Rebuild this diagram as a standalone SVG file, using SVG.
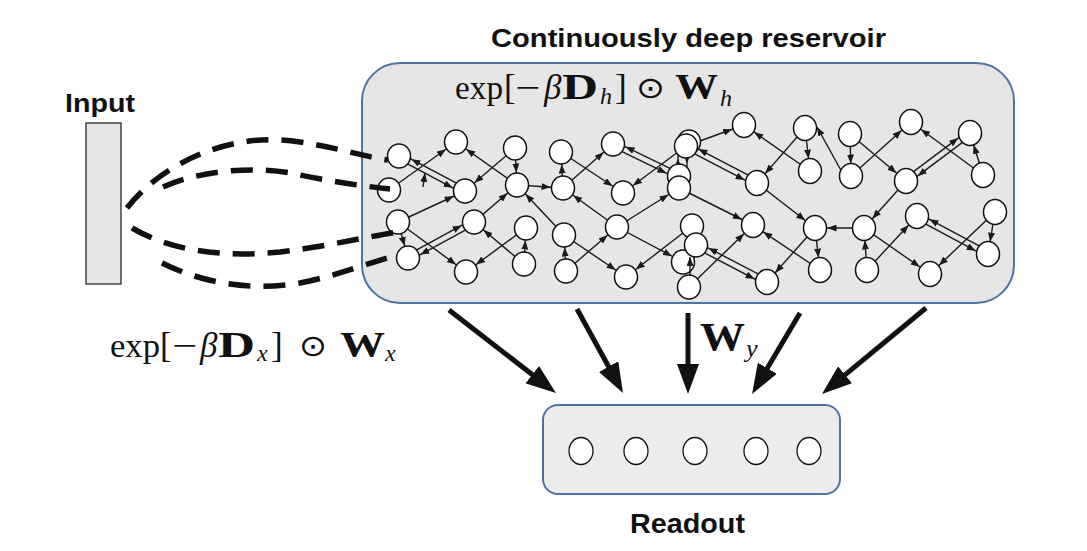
<svg xmlns="http://www.w3.org/2000/svg" width="1087" height="551" viewBox="0 0 1087 551">
<style>
.lbl{font-family:"Liberation Sans",Arial,sans-serif;font-weight:bold;fill:#111}
.m{font-family:"Liberation Serif","Times New Roman",serif;fill:#111}
.mb{font-family:"Liberation Serif","Times New Roman",serif;font-weight:bold;fill:#111}
.mi{font-family:"Liberation Serif","Times New Roman",serif;font-style:italic;fill:#111}
.op{font-family:"DejaVu Sans",sans-serif;fill:#111}
.box{fill:#e6e6e6;stroke:#4d74a4;stroke-width:2}
.nd{fill:#fff;stroke:#111;stroke-width:1.5}
.ro{fill:#fff;stroke:#111;stroke-width:1.3}
.e{fill:none;stroke:#1a1a1a;stroke-width:1.4;marker-end:url(#ah)}
.ep{fill:none;stroke:#1a1a1a;stroke-width:1.4;marker-end:url(#ahp)}
.dash{fill:none;stroke:#111;stroke-width:5.5;stroke-dasharray:22 13}
.big{fill:none;stroke:#111;stroke-width:5;marker-end:url(#bh)}
</style>
<defs>
<marker id="ah" markerUnits="userSpaceOnUse" viewBox="0 0 9 7" markerWidth="9" markerHeight="7" refX="21.5" refY="3.5" orient="auto"><path d="M0,0L9,3.5L0,7z" fill="#1a1a1a"/></marker>
<marker id="ahp" markerUnits="userSpaceOnUse" viewBox="0 0 9 7" markerWidth="9" markerHeight="7" refX="9" refY="3.5" orient="auto"><path d="M0,0L9,3.5L0,7z" fill="#1a1a1a"/></marker>
<marker id="bh" markerUnits="userSpaceOnUse" viewBox="0 0 30 22" markerWidth="30" markerHeight="22" refX="15" refY="11" orient="auto"><path d="M0,0L30,11L0,22z" fill="#111"/></marker>
</defs>
<rect width="1087" height="551" fill="#fff"/>

<g id="reservoir">
<rect class="box" x="362" y="63" width="652" height="240" rx="38"/>
<text class="lbl" x="491" y="46.5" font-size="26" textLength="395" lengthAdjust="spacingAndGlyphs">Continuously deep reservoir</text>
<g id="formula-h">
<text class="m" x="455" y="99" font-size="34" textLength="48" lengthAdjust="spacingAndGlyphs">exp</text>
<text class="m" x="504" y="99" font-size="35">[</text>
<text class="m" x="515" y="99" font-size="34" textLength="25" lengthAdjust="spacingAndGlyphs">−</text>
<text class="mi" x="544" y="99" font-size="35">β</text>
<text class="mb" x="562" y="99" font-size="36" textLength="36" lengthAdjust="spacingAndGlyphs">D</text>
<text class="mi" x="600" y="104" font-size="24">h</text>
<text class="m" x="615" y="99" font-size="35">]</text>
<text class="op" x="636" y="98" font-size="30" textLength="29" lengthAdjust="spacingAndGlyphs">⊙</text>
<text class="mb" x="675" y="99" font-size="36" textLength="43" lengthAdjust="spacingAndGlyphs">W</text>
<text class="mi" x="720" y="106" font-size="24">h</text>
</g>
</g>

<g id="input">
<rect x="86" y="123" width="35" height="161" fill="#e6e6e6" stroke="#2a2a2a" stroke-width="1.3"/>
<text class="lbl" x="65" y="111.5" font-size="26" textLength="70" lengthAdjust="spacingAndGlyphs">Input</text>
</g>

<g id="formula-x">
<text class="m" x="110" y="357" font-size="34" textLength="50" lengthAdjust="spacingAndGlyphs">exp</text>
<text class="m" x="160" y="357" font-size="35">[</text>
<text class="m" x="172" y="357" font-size="34" textLength="25" lengthAdjust="spacingAndGlyphs">−</text>
<text class="mi" x="200" y="357" font-size="35">β</text>
<text class="mb" x="218" y="357" font-size="36" textLength="37" lengthAdjust="spacingAndGlyphs">D</text>
<text class="mi" x="257" y="361" font-size="24">x</text>
<text class="m" x="271" y="357" font-size="35">]</text>
<text class="op" x="299" y="356" font-size="30" textLength="28" lengthAdjust="spacingAndGlyphs">⊙</text>
<text class="mb" x="340" y="357" font-size="36" textLength="45" lengthAdjust="spacingAndGlyphs">W</text>
<text class="mi" x="385" y="361" font-size="24">x</text>
</g>

<g id="readout">
<rect class="box" x="543" y="405" width="297" height="89" rx="15" style="fill:#ececec"/>
<text class="lbl" x="630" y="533" font-size="27" textLength="115" lengthAdjust="spacingAndGlyphs">Readout</text>
<g id="r1"><ellipse class="ro" cx="581" cy="451" rx="12" ry="13.5"/></g>
<g id="r2"><ellipse class="ro" cx="636" cy="451" rx="12" ry="13.5"/></g>
<g id="r3"><ellipse class="ro" cx="695" cy="451" rx="12" ry="13.5"/></g>
<g id="r4"><ellipse class="ro" cx="756" cy="451" rx="12" ry="13.5"/></g>
<g id="r5"><ellipse class="ro" cx="809" cy="451" rx="12" ry="13.5"/></g>
</g>

<g id="connectors">
<path class="e" d="M389,190L456,142"/>
<path class="e" d="M515,148L465,191"/>
<path class="e" d="M517,185L456,142"/>
<path class="e" d="M515,148L517,185"/>
<path class="e" d="M517,185L563,188"/>
<path class="e" d="M563,188L561,152"/>
<path class="e" d="M398,222L465,191"/>
<path class="e" d="M398,222L408,258"/>
<path class="e" d="M398,222L466,272"/>
<path class="e" d="M474,222L517,185"/>
<path class="e" d="M524,264L474,222"/>
<path class="e" d="M524,264L526,228"/>
<path class="e" d="M526,228L466,272"/>
<path class="e" d="M564,235L517,185"/>
<path class="e" d="M566,271L564,235"/>
<path class="e" d="M563,188L613,144"/>
<path class="e" d="M561,152L623,193"/>
<path class="e" d="M617,227L563,188"/>
<path class="e" d="M686,146L623,193"/>
<path class="e" d="M686,146L744,125"/>
<path class="e" d="M679,188L753,225"/>
<path class="e" d="M617,227L679,188"/>
<path class="e" d="M617,227L683,262"/>
<path class="e" d="M566,271L617,227"/>
<path class="e" d="M564,235L626,277"/>
<path class="e" d="M692,226L626,277"/>
<path class="e" d="M689,287L753,225"/>
<path class="e" d="M805,128L757,183"/>
<path class="e" d="M810,171L744,125"/>
<path class="e" d="M805,128L810,171"/>
<path class="ep" d="M843,174L817,127"/>
<path class="e" d="M850,134L851,176"/>
<path class="e" d="M851,176L911,122"/>
<path class="e" d="M850,134L906,181"/>
<path class="e" d="M983,175L970,133"/>
<path class="e" d="M983,175L911,122"/>
<path class="e" d="M757,183L815,228"/>
<path class="e" d="M864,228L815,228"/>
<path class="e" d="M906,181L864,228"/>
<path class="e" d="M815,228L767,282"/>
<path class="e" d="M815,228L820,270"/>
<path class="e" d="M820,270L753,225"/>
<path class="e" d="M867,270L864,228"/>
<path class="e" d="M867,270L917,216"/>
<path class="e" d="M864,228L930,274"/>
<path class="e" d="M995,212L988,254"/>
<path class="e" d="M995,212L930,274"/>
<path class="e" d="M397.6,158.6L463.6,193.6"/>
<path class="e" d="M466.4,188.4L400.4,153.4"/>
<path class="e" d="M406.6,255.4L472.6,219.4"/>
<path class="e" d="M475.4,224.6L409.4,260.6"/>
<path class="e" d="M611.7,146.7L677.7,178.7"/>
<path class="e" d="M680.3,173.3L614.3,141.3"/>
<path class="e" d="M684.6,148.7L755.6,185.7"/>
<path class="e" d="M758.4,180.3L687.4,143.3"/>
<path class="e" d="M694.6,247.7L765.6,284.7"/>
<path class="e" d="M768.4,279.3L697.4,242.3"/>
<path class="e" d="M904.2,178.6L968.2,130.6"/>
<path class="e" d="M971.8,135.4L907.8,183.4"/>
<path class="e" d="M915.6,218.7L986.6,256.7"/>
<path class="e" d="M989.4,251.4L918.4,213.4"/>
<path class="e" d="M678,176L678,146"/>
<path class="e" d="M687,146L687,176"/>
<path class="big" d="M449,310L544.1,383.8"/>
<path class="big" d="M577,309L615.8,379.8"/>
<path class="big" d="M688,313L688,379"/>
<path class="big" d="M800,313L759.7,381.1"/>
<path class="big" d="M926,308L833.5,384.4"/>
</g>

<g id="wy">
<text class="mb" x="700" y="350" font-size="39" textLength="45" lengthAdjust="spacingAndGlyphs">W</text>
<text class="mi" x="746" y="357" font-size="26">y</text>
</g>

<g id="neurons">
<g id="a1"><ellipse class="nd" cx="399" cy="156" rx="11.5" ry="12"/></g>
<g id="a2"><ellipse class="nd" cx="456" cy="142" rx="11.5" ry="12"/></g>
<g id="a3"><ellipse class="nd" cx="389" cy="190" rx="11.5" ry="12"/></g>
<g id="a4"><ellipse class="nd" cx="465" cy="191" rx="11.5" ry="12"/></g>
<g id="a5"><ellipse class="nd" cx="515" cy="148" rx="11.5" ry="12"/></g>
<g id="a6"><ellipse class="nd" cx="517" cy="185" rx="11.5" ry="12"/></g>
<g id="a7"><ellipse class="nd" cx="561" cy="152" rx="11.5" ry="12"/></g>
<g id="a8"><ellipse class="nd" cx="563" cy="188" rx="11.5" ry="12"/></g>
<g id="a9"><ellipse class="nd" cx="398" cy="222" rx="11.5" ry="12"/></g>
<g id="a10"><ellipse class="nd" cx="474" cy="222" rx="11.5" ry="12"/></g>
<g id="a11"><ellipse class="nd" cx="526" cy="228" rx="11.5" ry="12"/></g>
<g id="a12"><ellipse class="nd" cx="564" cy="235" rx="11.5" ry="12"/></g>
<g id="a13"><ellipse class="nd" cx="408" cy="258" rx="11.5" ry="12"/></g>
<g id="a14"><ellipse class="nd" cx="466" cy="272" rx="11.5" ry="12"/></g>
<g id="a15"><ellipse class="nd" cx="524" cy="264" rx="11.5" ry="12"/></g>
<g id="a16"><ellipse class="nd" cx="566" cy="271" rx="11.5" ry="12"/></g>
<g id="b1"><ellipse class="nd" cx="613" cy="144" rx="11.5" ry="12"/></g>
<g id="b2"><ellipse class="nd" cx="623" cy="193" rx="11.5" ry="12"/></g>
<g id="b3"><ellipse class="nd" cx="617" cy="227" rx="11.5" ry="12"/></g>
<g id="b4"><ellipse class="nd" cx="626" cy="277" rx="11.5" ry="12"/></g>
<g id="c1b"><ellipse class="nd" cx="689" cy="142" rx="11.5" ry="12"/></g>
<g id="c1"><ellipse class="nd" cx="686" cy="146" rx="11.5" ry="12"/></g>
<g id="c2"><ellipse class="nd" cx="679" cy="176" rx="11.5" ry="12"/></g>
<g id="c3"><ellipse class="nd" cx="679" cy="188" rx="11.5" ry="12"/></g>
<g id="c4"><ellipse class="nd" cx="692" cy="226" rx="11.5" ry="12"/></g>
<g id="c6"><ellipse class="nd" cx="683" cy="262" rx="11.5" ry="12"/></g>
<g id="c5"><ellipse class="nd" cx="696" cy="245" rx="11.5" ry="12"/></g>
<g id="c7"><ellipse class="nd" cx="689" cy="287" rx="11.5" ry="12"/></g>
<g id="d1"><ellipse class="nd" cx="744" cy="125" rx="11.5" ry="12.5"/></g>
<g id="d2"><ellipse class="nd" cx="805" cy="128" rx="11.5" ry="12.5"/></g>
<g id="d3"><ellipse class="nd" cx="850" cy="134" rx="11.5" ry="12.5"/></g>
<g id="d4"><ellipse class="nd" cx="911" cy="122" rx="11.5" ry="12.5"/></g>
<g id="d5"><ellipse class="nd" cx="970" cy="133" rx="11.5" ry="12.5"/></g>
<g id="d6"><ellipse class="nd" cx="810" cy="171" rx="11.5" ry="12.5"/></g>
<g id="d7"><ellipse class="nd" cx="851" cy="176" rx="11.5" ry="12.5"/></g>
<g id="d8"><ellipse class="nd" cx="757" cy="183" rx="11.5" ry="12.5"/></g>
<g id="d9"><ellipse class="nd" cx="906" cy="181" rx="11.5" ry="12.5"/></g>
<g id="d10"><ellipse class="nd" cx="983" cy="175" rx="11.5" ry="12.5"/></g>
<g id="d11"><ellipse class="nd" cx="753" cy="225" rx="11.5" ry="12.5"/></g>
<g id="d12"><ellipse class="nd" cx="815" cy="228" rx="11.5" ry="12.5"/></g>
<g id="d13"><ellipse class="nd" cx="864" cy="228" rx="11.5" ry="12.5"/></g>
<g id="d14"><ellipse class="nd" cx="917" cy="216" rx="11.5" ry="12.5"/></g>
<g id="d15"><ellipse class="nd" cx="995" cy="212" rx="11.5" ry="12.5"/></g>
<g id="d16"><ellipse class="nd" cx="767" cy="282" rx="11.5" ry="12.5"/></g>
<g id="d17"><ellipse class="nd" cx="820" cy="270" rx="11.5" ry="12.5"/></g>
<g id="d18"><ellipse class="nd" cx="867" cy="270" rx="11.5" ry="12.5"/></g>
<g id="d19"><ellipse class="nd" cx="930" cy="274" rx="11.5" ry="12.5"/></g>
<g id="d20"><ellipse class="nd" cx="988" cy="254" rx="11.5" ry="12.5"/></g>
</g>

<g id="connectors-over">
<path class="dash" d="M127,208C160,165 230,130 300,142C340,148 360,156 388,160"/>
<path class="dash" d="M163,187C200,170 260,165 300,175C340,183 370,187 390,189"/>
<path class="dash" d="M132,228C170,250 220,258 280,252C330,246 370,236 398,232"/>
<path class="dash" d="M162,263C200,282 250,292 300,283C340,275 370,262 398,255"/>
<path class="ep" d="M423,187L425,173"/>
<path class="ep" d="M690,275L690,257"/>
</g>
</svg>
